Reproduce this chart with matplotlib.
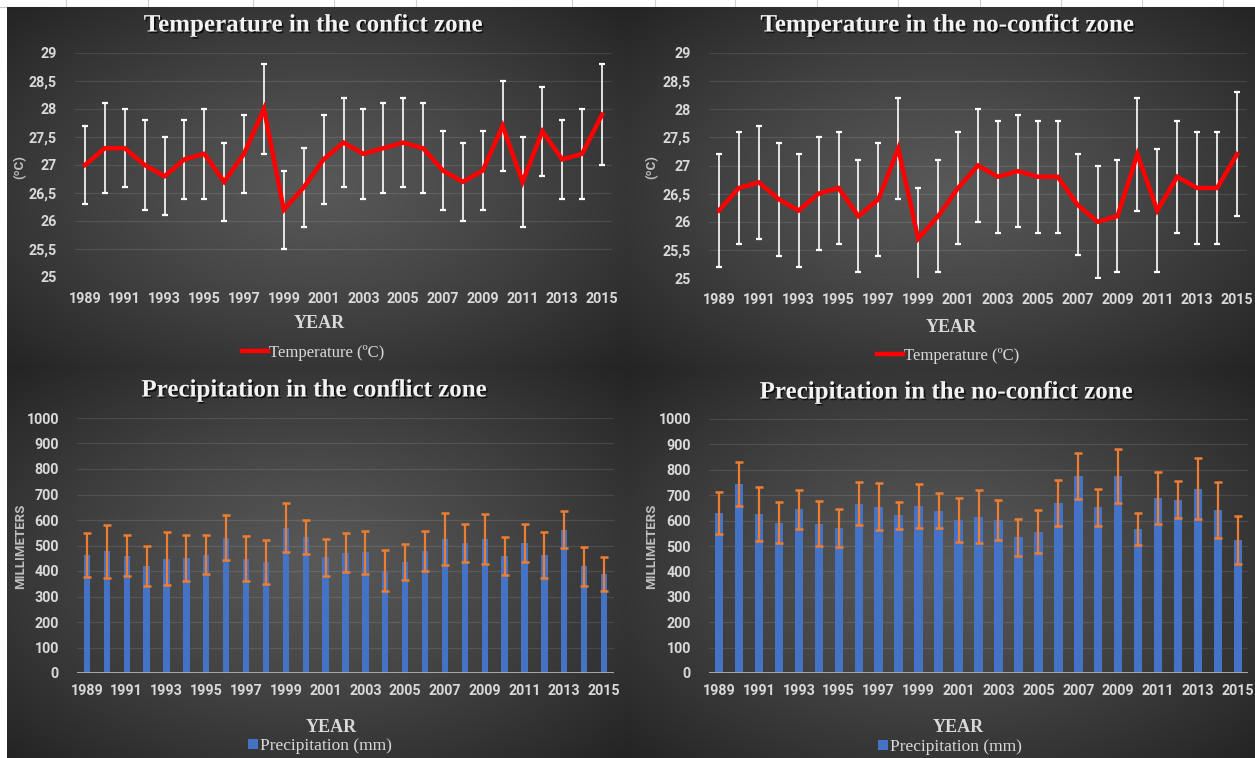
import numpy as np
import matplotlib
matplotlib.use("Agg")
import matplotlib.pyplot as plt
import matplotlib.patheffects as pe
from matplotlib.ticker import FuncFormatter, FixedLocator

# ---------------- data ----------------
years = list(range(1989, 2016))

temp_conflict = [27.0, 27.3, 27.3, 27.0, 26.8, 27.1, 27.2, 26.7, 27.2, 28.0,
                 26.2, 26.6, 27.1, 27.4, 27.2, 27.3, 27.4, 27.3, 26.9, 26.7,
                 26.9, 27.7, 26.7, 27.6, 27.1, 27.2, 27.9]
temp_conflict_err = [0.7, 0.8, 0.7, 0.8, 0.7, 0.7, 0.8, 0.7, 0.7, 0.8,
                     0.7, 0.7, 0.8, 0.8, 0.8, 0.8, 0.8, 0.8, 0.7, 0.7,
                     0.7, 0.8, 0.8, 0.8, 0.7, 0.8, 0.9]

temp_noconflict = [26.2, 26.6, 26.7, 26.4, 26.2, 26.5, 26.6, 26.1, 26.4, 27.3,
                   25.7, 26.1, 26.6, 27.0, 26.8, 26.9, 26.8, 26.8, 26.3, 26.0,
                   26.1, 27.2, 26.2, 26.8, 26.6, 26.6, 27.2]
temp_noconflict_err = [1.0, 1.0, 1.0, 1.0, 1.0, 1.0, 1.0, 1.0, 1.0, 0.9,
                       0.9, 1.0, 1.0, 1.0, 1.0, 1.0, 1.0, 1.0, 0.9, 1.0,
                       1.0, 1.0, 1.1, 1.0, 1.0, 1.0, 1.1]

prec_conflict = [464, 477, 460, 419, 449, 450, 464, 530, 449, 435,
                 570, 533, 453, 472, 473, 401, 435, 478, 526, 509,
                 526, 460, 511, 464, 562, 418, 387]
prec_conflict_err = [86, 103, 81, 78, 102, 91, 77, 88, 90, 87,
                     95, 67, 71, 76, 85, 80, 72, 77, 102, 75,
                     98, 74, 75, 90, 73, 78, 67]

prec_noconflict = [630, 743, 625, 591, 644, 588, 571, 667, 655, 621,
                   658, 639, 603, 616, 603, 534, 557, 670, 775, 653,
                   776, 567, 689, 683, 726, 643, 524]
prec_noconflict_err = [81, 86, 107, 81, 76, 89, 74, 86, 93, 54,
                       86, 70, 86, 105, 78, 74, 86, 91, 90, 73,
                       105, 63, 104, 73, 119, 110, 93]

titles = ["Temperature in the confict zone", "Temperature in the no-confict zone",
          "Precipitation in the conflict zone", "Precipitation in the no-confict zone"]
temp_label = "Temperature (\u00baC)"
prec_label = "Precipitation (mm)"

# ---------------- styling ----------------
W, H = 1255, 758
TICK_FONT = ['Roboto', 'DejaVu Sans']
SERIF = ['Liberation Serif', 'DejaVu Serif']
LIGHT = '#d9d9d9'
BLUE = '#4472c4'
ORANGE = '#ed7d31'

fig = plt.figure(figsize=(W / 100, H / 100), dpi=100)
fig.patch.set_facecolor('white')


def frac(l, t, r, b):
    return [l / W, 1 - b / H, (r - l) / W, (b - t) / H]


def panel_bg(l, t, r, b):
    ax = fig.add_axes(frac(l, t, r, b), zorder=0)
    yy, xx = np.mgrid[-1:1:240j, -1:1:360j]
    d = np.clip(np.sqrt(xx ** 2 + yy ** 2) / np.sqrt(2), 0, 1)
    c0, c1 = 0x58 / 255, 0x24 / 255
    v = c0 + (c1 - c0) * d ** 1.2
    ax.imshow(np.dstack([v, v, v]), extent=[0, 1, 0, 1], aspect='auto',
              interpolation='bilinear')
    ax.set_axis_off()


# spreadsheet strip at the top
strip = fig.add_axes([0, 0, 1, 1], zorder=-1)
strip.set_xlim(0, W)
strip.set_ylim(H, 0)
strip.set_axis_off()
for gx in [66, 148, 253, 334, 416, 572, 655, 735, 817, 898, 980, 1061, 1142, 1223]:
    strip.plot([gx, gx], [0, 7], color='#d0d0d0', lw=0.8)
strip.plot([0, W], [6.5, 6.5], color='#c8c8c8', lw=0.8)

panel_bg(7, 7, 626, 368)
panel_bg(626, 7, 1255, 370)
panel_bg(7, 368, 626, 758)
panel_bg(626, 370, 1255, 758)

x = np.arange(len(years))


def style_axes(ax, ylim, yticks, fmt, xpad):
    ax.set_facecolor('none')
    ax.set_xlim(-0.5, len(years) - 0.5)
    ax.set_ylim(*ylim)
    ax.yaxis.set_major_locator(FixedLocator(yticks))
    ax.yaxis.set_major_formatter(FuncFormatter(fmt))
    ax.set_xticks(x[::2])
    ax.set_xticklabels([str(y) for y in years[::2]])
    for s in ax.spines.values():
        s.set_visible(False)
    ax.grid(axis='y', color='white', alpha=0.10, lw=0.9)
    ax.set_axisbelow(True)
    ax.tick_params(axis='both', length=0, colors=LIGHT, labelsize=10.3)
    ax.tick_params(axis='y', pad=13)
    ax.tick_params(axis='x', pad=xpad)
    for lab in ax.get_xticklabels() + ax.get_yticklabels():
        lab.set_family(TICK_FONT)
        lab.set_fontweight('bold')


def temp_fmt(v, _):
    s = f"{v:.1f}".replace('.', ',')
    return s[:-2] if s.endswith(',0') else s


def prec_fmt(v, _):
    return f"{int(v)}"


title_fx = [pe.SimplePatchShadow(offset=(1.2, -1.2), shadow_rgbFace='black', alpha=0.7), pe.Normal()]


def add_title(text, cx, cy):
    fig.text(cx / W, 1 - cy / H, text, ha='center', va='center', color='#f2f2f2',
             fontsize=18, fontweight='bold', family=SERIF, path_effects=title_fx)


def add_year(cx, cy):
    fig.text(cx / W, 1 - cy / H, "YEAR", ha='center', va='center', color=LIGHT,
             fontsize=13, fontweight='bold', family=SERIF)


def add_ylabel(text, cx, cy):
    fig.text(cx / W, 1 - cy / H, text, ha='center', va='center', color='#bfbfbf',
             fontsize=9.5, rotation=90, family=TICK_FONT, fontweight='bold')


# ---------------- temperature panels ----------------
temp_specs = [
    (frac(75, 53, 612, 277), temp_conflict, temp_conflict_err, titles[0], (313, 25),
     (20, 167), (319, 323), (313, 353)),
    (frac(709, 53, 1247, 278), temp_noconflict, temp_noconflict_err, titles[1], (947, 25),
     (652, 167), (951, 328), (948, 356)),
]
for rect, vals, errs, title, tpos, ylpos, yrpos, lgpos in temp_specs:
    ax = fig.add_axes(rect, zorder=1)
    ax.errorbar(x, vals, yerr=errs, fmt='none', ecolor='white', elinewidth=1.2,
                capsize=2.5, capthick=1.6, zorder=2)
    line, = ax.plot(x, vals, color='#ff0000', lw=3.2, solid_joinstyle='miter', zorder=3,
                    label=temp_label)
    style_axes(ax, (25, 29), np.arange(25, 29.01, 0.5), temp_fmt, 11)
    add_title(title, *tpos)
    add_ylabel("(\u00baC)", *ylpos)
    add_year(*yrpos)
    leg = ax.legend(handles=[line], loc='center', bbox_to_anchor=(lgpos[0] / W, 1 - lgpos[1] / H),
                    bbox_transform=fig.transFigure, frameon=False, handlelength=1.6,
                    handletextpad=0.05, prop={'family': SERIF, 'size': 12})
    for t in leg.get_texts():
        t.set_color(LIGHT)

# ---------------- precipitation panels ----------------
prec_specs = [
    (frac(77, 418, 614, 673), prec_conflict, prec_conflict_err, titles[2], (314, 390),
     (21, 546), (331, 728), (320, 746), 0.32),
    (frac(709, 419, 1248, 673), prec_noconflict, prec_noconflict_err, titles[3], (946, 392),
     (652, 546), (958, 728), (950, 747), 0.42),
]
for rect, vals, errs, title, tpos, ylpos, yrpos, lgpos, bw in prec_specs:
    ax = fig.add_axes(rect, zorder=1)
    bars = ax.bar(x, vals, width=bw, color=BLUE, zorder=2, label=prec_label)
    ax.errorbar(x, vals, yerr=errs, fmt='none', ecolor=ORANGE, elinewidth=1.6,
                capsize=3, capthick=1.8, zorder=3)
    style_axes(ax, (0, 1000), np.arange(0, 1001, 100), prec_fmt, 8)
    ax.axhline(0, color='#a6a6a6', lw=2.2, zorder=4)
    add_title(title, *tpos)
    add_ylabel("MILLIMETERS", *ylpos)
    add_year(*yrpos)
    leg = ax.legend(handles=[bars], loc='center', bbox_to_anchor=(lgpos[0] / W, 1 - lgpos[1] / H),
                    bbox_transform=fig.transFigure, frameon=False, handlelength=0.55,
                    handleheight=0.55, handletextpad=0.15, prop={'family': SERIF, 'size': 12.5})
    for t in leg.get_texts():
        t.set_color(LIGHT)

fig.savefig("out.png", dpi=100, facecolor=fig.get_facecolor())
